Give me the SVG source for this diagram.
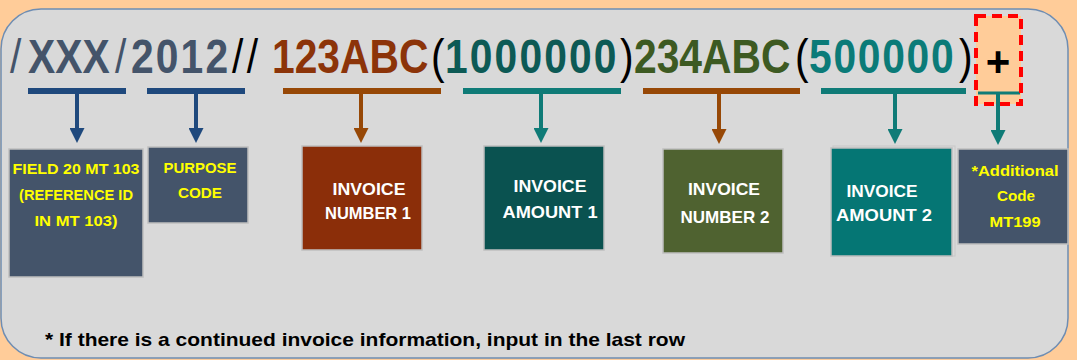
<svg xmlns="http://www.w3.org/2000/svg" width="1077" height="360" viewBox="0 0 1077 360">
<defs>
<style>
.big{font-family:"Liberation Sans",Arial,sans-serif;font-size:48px;font-weight:bold}
.thin{font-family:"Liberation Sans",Arial,sans-serif;font-size:48px;font-weight:normal}
.yl{font-family:"Liberation Sans",Arial,sans-serif;font-size:15px;font-weight:bold;fill:#FFFF00;text-anchor:middle}
.wt{font-family:"Liberation Sans",Arial,sans-serif;font-size:17px;font-weight:bold;fill:#FFFFFF;text-anchor:middle}
.box{stroke:#BFBFBF;stroke-width:1.5}
.bar{stroke-width:6;fill:none}
.stem{stroke-width:4;fill:none}
</style>
<marker id="hb" viewBox="0 0 15 15" refX="0" refY="7.5" markerWidth="15" markerHeight="15" markerUnits="userSpaceOnUse" orient="auto"><path d="M0,0 L15,7.5 L0,15 z" fill="#1F497D"/></marker>
<marker id="hr" viewBox="0 0 15 15" refX="0" refY="7.5" markerWidth="15" markerHeight="15" markerUnits="userSpaceOnUse" orient="auto"><path d="M0,0 L15,7.5 L0,15 z" fill="#974806"/></marker>
<marker id="ht" viewBox="0 0 15 15" refX="0" refY="7.5" markerWidth="15" markerHeight="15" markerUnits="userSpaceOnUse" orient="auto"><path d="M0,0 L15,7.5 L0,15 z" fill="#0F7B77"/></marker>
</defs>
<rect x="0" y="0" width="1077" height="360" fill="#FFCC99"/>
<rect id="panel" x="1" y="9" width="1067" height="349" rx="40" ry="40" fill="#D9D9D9" stroke="#6E8DB3" stroke-width="1.5"/>

<g id="code-line" transform="scale(0.85,1)">
<text class="thin" x="11.76" y="73" fill="#44546A">/</text>
<text class="big" x="32.94" y="73" fill="#44546A">XXX</text>
<text class="thin" x="135.29" y="73" fill="#44546A">/</text>
<text class="big" x="154.12" y="73" fill="#44546A" letter-spacing="2.5">2012</text>
<text class="thin" x="272.94" y="73" fill="#000000" letter-spacing="4">//</text>
<text class="big" x="320" y="73" fill="#8C3409">123ABC</text>
<text class="thin" x="507.06" y="73" fill="#000000">(</text>
<text class="big" x="523.53" y="73" fill="#0D5A55" letter-spacing="2.5">1000000</text>
<text class="thin" x="729.41" y="73" fill="#000000">)</text>
<text class="big" x="745.88" y="73" fill="#3D5A22">234ABC</text>
<text class="thin" x="935.29" y="73" fill="#000000">(</text>
<text class="big" x="951.76" y="73" fill="#0B7B78" letter-spacing="2">500000</text>
<text class="thin" x="1128.24" y="73" fill="#000000">)</text>
</g>

<g id="plus-box">
<rect x="976" y="16" width="45" height="88" fill="#FFCC99"/>
</g>

<g id="connectors">
<line class="bar" x1="28" y1="91" x2="126" y2="91" stroke="#1F497D"/>
<line class="bar" x1="147" y1="91" x2="245" y2="91" stroke="#1F497D"/>
<line class="bar" x1="283" y1="91" x2="441" y2="91" stroke="#974806"/>
<line class="bar" x1="463" y1="91" x2="621" y2="91" stroke="#0F7B77"/>
<line class="bar" x1="643" y1="91" x2="800" y2="91" stroke="#974806"/>
<line class="bar" x1="821" y1="91" x2="966" y2="91" stroke="#0F7B77"/>
<line x1="978" y1="93" x2="1020" y2="93" stroke="#0F7B77" stroke-width="3"/>
<line class="stem" x1="77" y1="93" x2="77" y2="128" stroke="#1F497D" marker-end="url(#hb)"/>
<line class="stem" x1="196" y1="93" x2="196" y2="128" stroke="#1F497D" marker-end="url(#hb)"/>
<line class="stem" x1="361" y1="93" x2="361" y2="128" stroke="#974806" marker-end="url(#hr)"/>
<line class="stem" x1="541" y1="93" x2="541" y2="128" stroke="#0F7B77" marker-end="url(#ht)"/>
<line class="stem" x1="719" y1="93" x2="719" y2="129" stroke="#974806" marker-end="url(#hr)"/>
<line class="stem" x1="895" y1="93" x2="895" y2="129" stroke="#0F7B77" marker-end="url(#ht)"/>
<line class="stem" x1="998" y1="93" x2="998" y2="130" stroke="#0F7B77" marker-end="url(#ht)"/>
</g>

<g id="plus-mark">
<rect x="976" y="16" width="45" height="88" fill="none" stroke="#FF0000" stroke-width="4" stroke-dasharray="10 6"/>
<text x="998" y="76" font-family="'Liberation Sans',Arial,sans-serif" font-size="42" font-weight="bold" fill="#000000" text-anchor="middle">+</text>
</g>

<g id="field20">
<rect class="box" x="9" y="149" width="134" height="128" fill="#44546A"/>
<text class="yl" x="76" y="174" textLength="127" lengthAdjust="spacingAndGlyphs">FIELD 20 MT 103</text>
<text class="yl" x="76" y="200" textLength="114" lengthAdjust="spacingAndGlyphs">(REFERENCE ID</text>
<text class="yl" x="76" y="226" textLength="83" lengthAdjust="spacingAndGlyphs">IN MT 103)</text>
</g>

<g id="purpose">
<rect class="box" x="148" y="147" width="100" height="76" fill="#44546A"/>
<text class="yl" x="200" y="173" textLength="73" lengthAdjust="spacingAndGlyphs">PURPOSE</text>
<text class="yl" x="200" y="198" textLength="44" lengthAdjust="spacingAndGlyphs">CODE</text>
</g>

<g id="inv-num-1">
<rect class="box" x="302" y="146" width="120" height="104" fill="#8B2E09"/>
<text class="wt" x="369" y="195" textLength="73" lengthAdjust="spacingAndGlyphs">INVOICE</text>
<text class="wt" x="368" y="219" textLength="86" lengthAdjust="spacingAndGlyphs">NUMBER 1</text>
</g>

<g id="inv-amt-1">
<rect class="box" x="484" y="146" width="120" height="104" fill="#0A5250"/>
<text class="wt" x="550" y="192" textLength="73" lengthAdjust="spacingAndGlyphs">INVOICE</text>
<text class="wt" x="550" y="218" textLength="95" lengthAdjust="spacingAndGlyphs">AMOUNT 1</text>
</g>

<g id="inv-num-2">
<rect class="box" x="663" y="149" width="120" height="104" fill="#4F6230"/>
<text class="wt" x="724" y="195" textLength="72" lengthAdjust="spacingAndGlyphs">INVOICE</text>
<text class="wt" x="725" y="223" textLength="89" lengthAdjust="spacingAndGlyphs">NUMBER 2</text>
</g>

<g id="inv-amt-2">
<rect x="833" y="146" width="122" height="110" fill="none" stroke="#C8C8C8" stroke-width="1"/>
<rect class="box" x="831" y="148" width="121" height="108" fill="#057674"/>
<text class="wt" x="882" y="197" textLength="71" lengthAdjust="spacingAndGlyphs">INVOICE</text>
<text class="wt" x="884" y="221" textLength="96" lengthAdjust="spacingAndGlyphs">AMOUNT 2</text>
</g>

<g id="additional">
<rect class="box" x="958" y="149" width="110" height="95" fill="#44546A"/>
<text class="yl" x="1015" y="176" textLength="87" lengthAdjust="spacingAndGlyphs">*Additional</text>
<text class="yl" x="1016" y="201" textLength="38" lengthAdjust="spacingAndGlyphs">Code</text>
<text class="yl" x="1015" y="227" textLength="51" lengthAdjust="spacingAndGlyphs">MT199</text>
</g>

<g id="footnote">
<text x="45" y="346" font-family="'Liberation Sans',Arial,sans-serif" font-size="19" font-weight="bold" fill="#000000" textLength="640" lengthAdjust="spacingAndGlyphs">* If there is a continued invoice information, input in the last row</text>
</g>
</svg>
